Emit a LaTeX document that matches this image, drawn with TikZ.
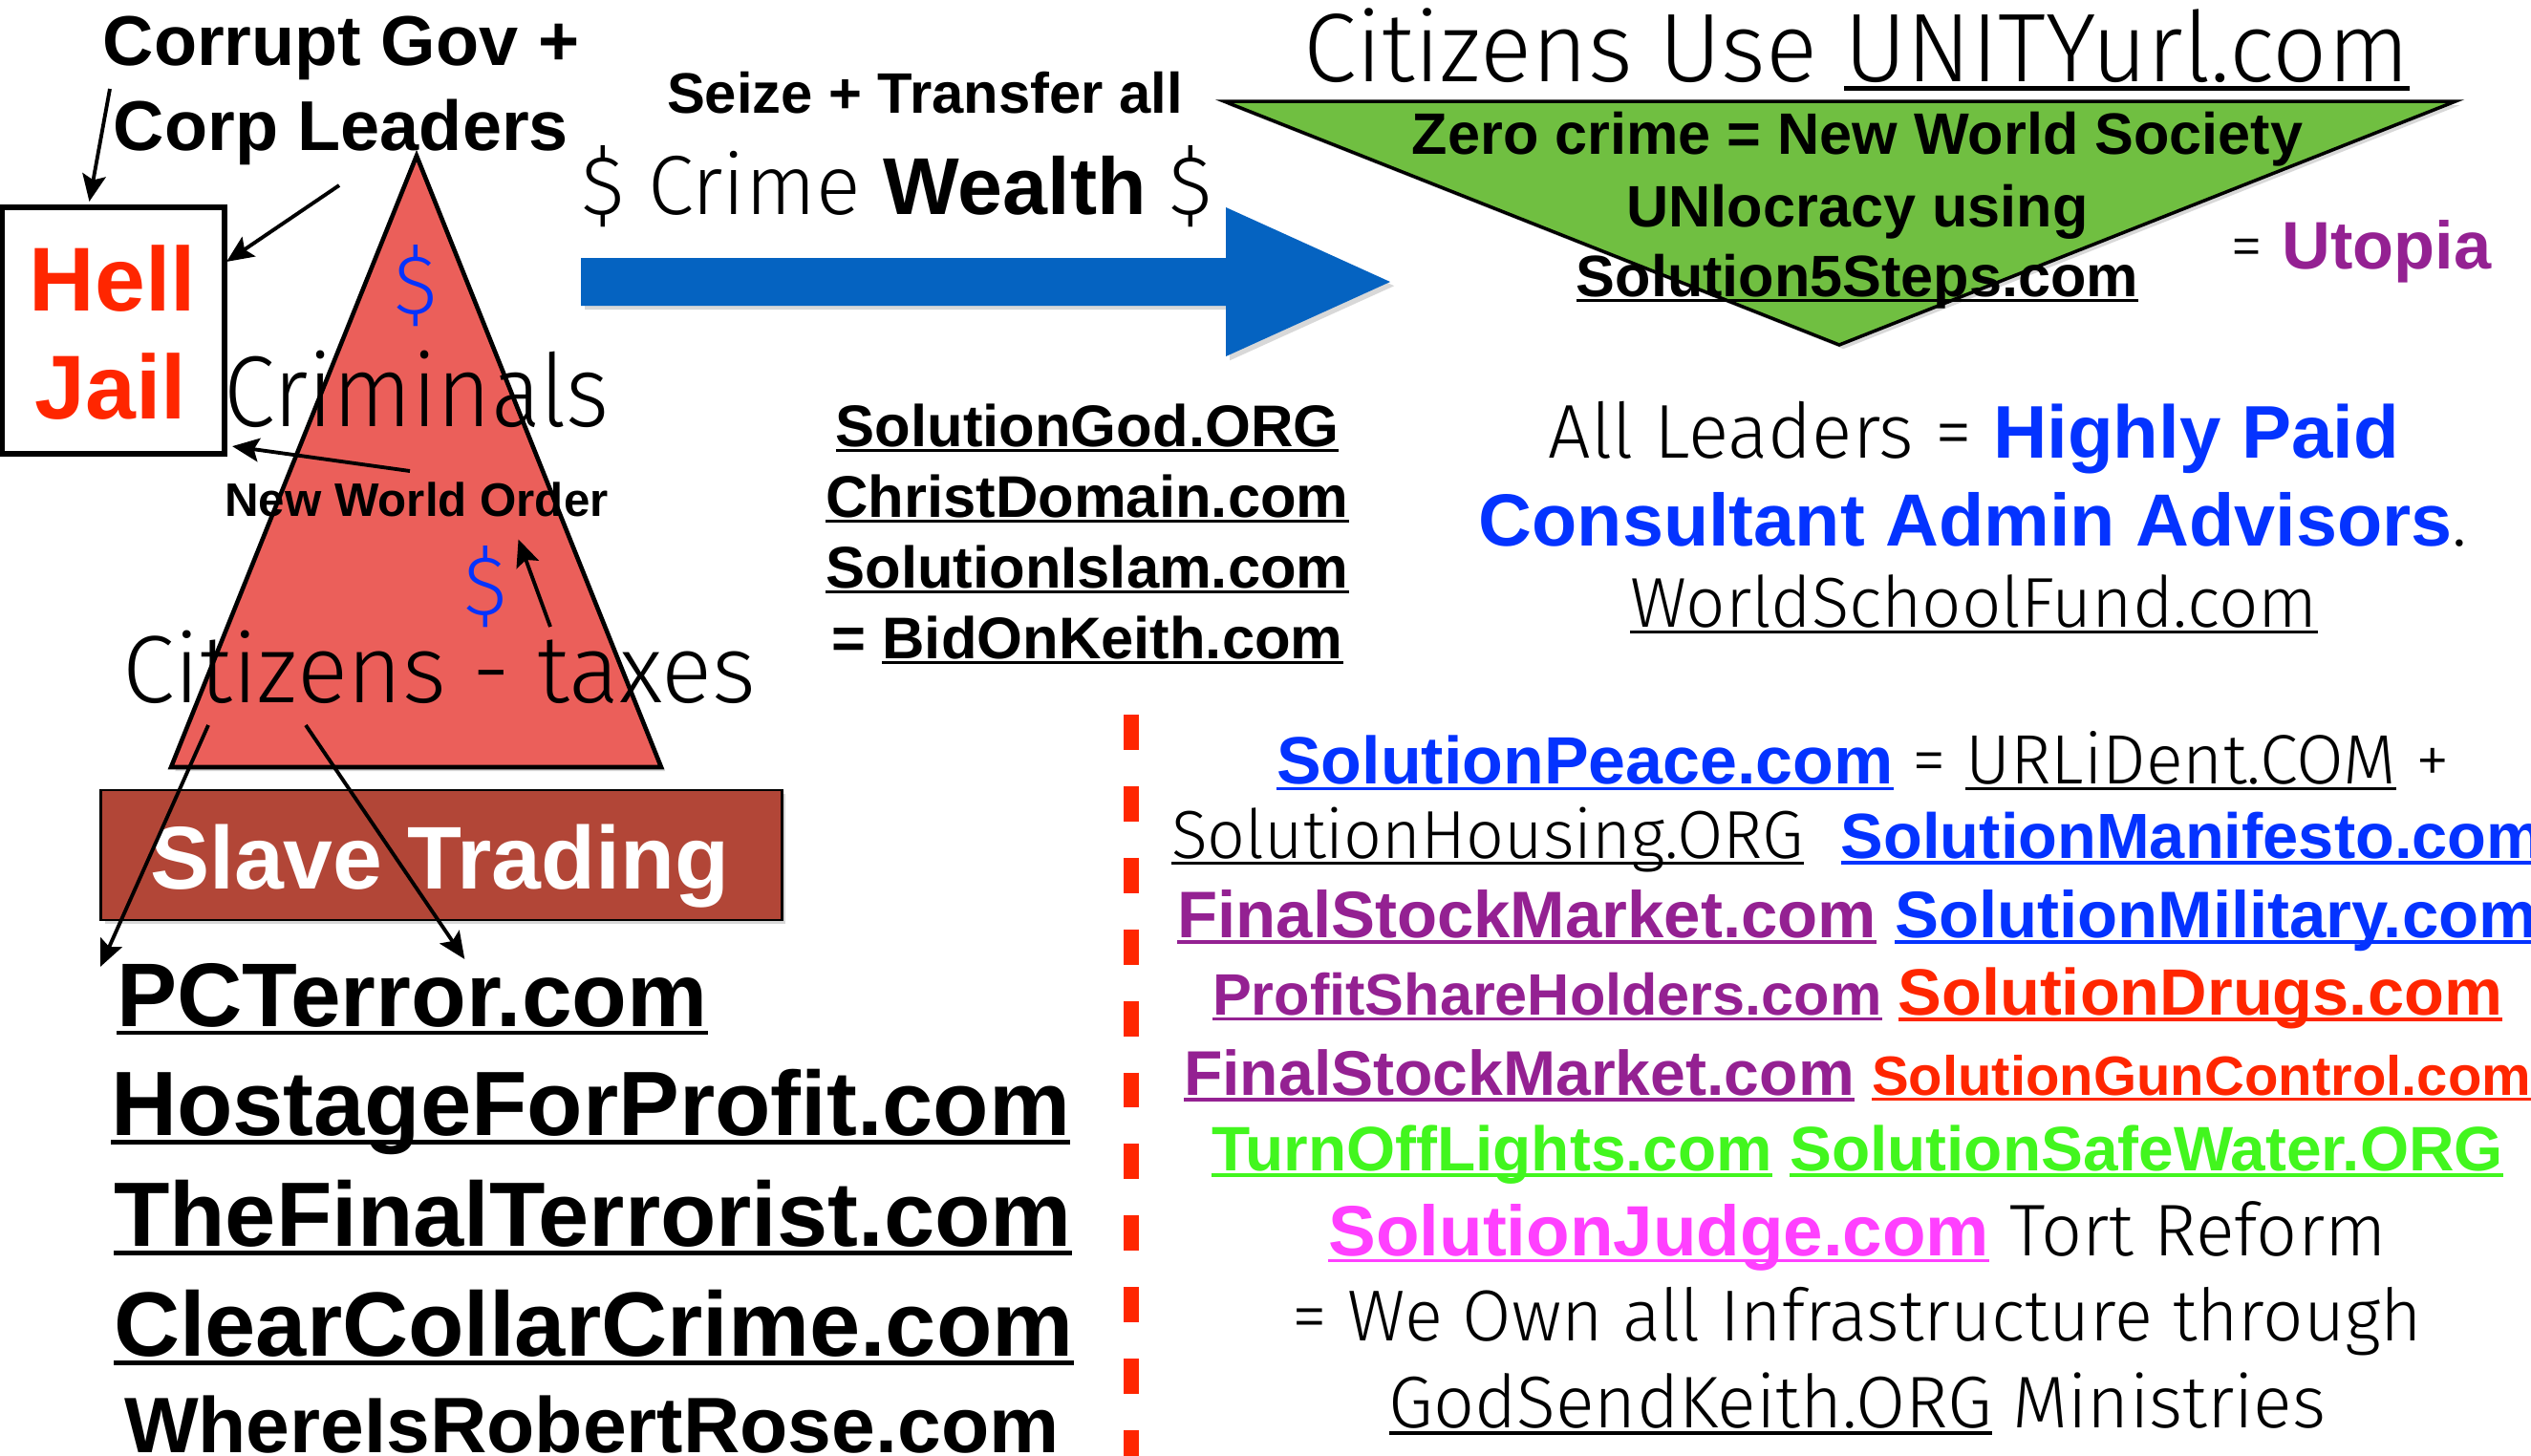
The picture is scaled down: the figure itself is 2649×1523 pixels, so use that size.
\documentclass[tikz,border=0pt]{standalone}
\usepackage{fontspec}
\setmainfont{Liberation Sans}
\newfontfamily\lite[FakeStretch=0.985]{Fira Sans Light}
\newfontfamily\litenarrow[FakeStretch=0.92]{Fira Sans Light}
\usetikzlibrary{arrows.meta,shadows}

\definecolor{pyramidred}{RGB}{235,95,90}
\definecolor{slavebrown}{RGB}{178,70,55}
\definecolor{arrowblue}{RGB}{5,99,193}
\definecolor{societygreen}{RGB}{112,191,65}
\definecolor{linkblue}{RGB}{4,51,255}
\definecolor{linkpurple}{RGB}{148,33,146}
\definecolor{linkred}{RGB}{255,38,0}
\definecolor{linkgreen}{RGB}{66,246,30}
\definecolor{linkpink}{RGB}{255,64,255}

\newcommand\fsz[1]{\fontsize{#1pt}{#1pt}\selectfont}
\newcommand\bld{\normalfont\bfseries}
\newcommand\undl[1]{\setbox0\hbox{#1}\rlap{\rule[-0.1em]{\wd0}{0.05em}}\box0\relax}

\begin{document}
\begin{tikzpicture}[x=0.01cm,y=-0.01cm,
            every node/.style={inner sep=0pt,outer sep=0pt},
            boldtxt/.style={anchor=base,font=\bld\fsz{#1}},
            lighttxt/.style={anchor=base,font=\lite\fsz{#1}},
            to/.style={-{Stealth[length=8pt,width=7pt,inset=1.5pt]},line width=1.1pt},
            shadowed/.style={drop shadow={shadow xshift=1.2pt,shadow yshift=-1.2pt,opacity=0.3}},
            cell/.style={draw,line width=1.5pt,minimum width=23.3mm,minimum height=25.8mm},
            slavebox/.style={draw,line width=0.8pt,fill=slavebrown,shadowed,minimum width=71.2mm,minimum height=13.6mm},
            dashline/.style={draw=linkred,line width=4.3pt,dash pattern=on 10.5pt off 10.8pt}
  ]
  \fill[white] (0,0) rectangle (2649,1523);
  \useasboundingbox (0,0) rectangle (2649,1523);

  % left pyramid
  \filldraw[fill=pyramidred,draw=black,line width=1.3pt,line join=miter,shadowed] (436,163) -- (692,803) -- (179,803) -- cycle;

  \node[boldtxt=21] (corrupt) at (357,68) {Corrupt Gov +};
  \node[boldtxt=21] (corp) at (357,157) {Corp Leaders};

  \node[cell] (cell) at (118.5,346) {};
  \node[boldtxt=27,text=linkred] (hell) at (118,325) {Hell};
  \node[boldtxt=27,text=linkred] (jail) at (116,438) {Jail};

  \node[lighttxt=25,text=linkblue] (dollartop) at (435,328) {\$};
  \node[anchor=base,font=\litenarrow\fsz{30}] (criminals) at (436,446) {Criminals};
  \node[boldtxt=14] (nwo) at (436,540) {New World Order};
  \node[lighttxt=25,text=linkblue] (dollarlow) at (508,643) {\$};
  \node[lighttxt=28.5] (ctax) at (460,735) {Citizens - taxes};

  \node[slavebox] (slave) at (462,895) {};
  \node[boldtxt=26.5,text=white] (slavetxt) at (460,930) {Slave Trading};

  % left list
  \node[boldtxt=26.9,anchor=base west] (pc) at (122,1074) {\undl{PCTerror.com}};
  \node[boldtxt=27.2,anchor=base west] (hostage) at (116,1188) {\undl{HostageForProfit.com}};
  \node[boldtxt=27.2,anchor=base west] (terrorist) at (119,1304) {\undl{TheFinalTerrorist.com}};
  \node[boldtxt=27.2,anchor=base west] (collar) at (119,1419) {\undl{ClearCollarCrime.com}};
  \node[boldtxt=23.4,anchor=base west] (rose) at (130,1520) {\undl{WhereIsRobertRose.com}};

  % arrows on the left
  \coordinate (govtail) at (115,93);
  \coordinate (leadtail) at (355,194);
  \coordinate (nwotail) at (429,493);
  \coordinate (taxtail) at (576,656);
  \coordinate (slavetailA) at (218,759);
  \coordinate (slavetailB) at (320,759);
  \draw[to] (govtail) -- ([xshift=-2.5mm,yshift=0.6mm]cell.north);
  \draw[to] (leadtail) -- ([xshift=0.2mm,yshift=7.2mm]cell.east);
  \draw[to] (nwotail) -- ([xshift=0.8mm,yshift=0.8mm]cell.south east);
  \draw[to] (taxtail) -- ([xshift=-9.4mm,yshift=-2.4mm]nwo.south east);
  \draw[to] (slavetailA) -- ([xshift=-1.7mm,yshift=-0.4mm]pc.north west);
  \draw[to] (slavetailB) -- ([xshift=5.5mm,yshift=0.4mm]pc.north);

  % transfer arrow
  \node[boldtxt=17] (seize) at (968,118) {Seize + Transfer all};
  \node[lighttxt=25] (wealth) at (939,224) {\$ Crime {\bld\fsz{24}Wealth} \$};
  \fill[arrowblue,shadowed] (608,270) -- (1283,270) -- (1283,217) -- (1455,295) -- (1283,373) -- (1283,320) -- (608,320) -- cycle;

  \node[boldtxt=17.5] (god) at (1138,467) {\undl{SolutionGod.ORG}};
  \node[boldtxt=17.5] (christ) at (1138,541) {\undl{ChristDomain.com}};
  \node[boldtxt=17.5] (islam) at (1138,615) {\undl{SolutionIslam.com}};
  \node[boldtxt=17.5] (bid) at (1138,689) {= \undl{BidOnKeith.com}};

  % society triangle
  \node[lighttxt=29] (unity) at (1943,85) {Citizens Use \undl{UNITYurl.com}};
  \filldraw[fill=societygreen,draw=black,line width=1pt,shadowed] (1281,106) -- (2570,106) -- (1925,361) -- cycle;
  \node[boldtxt=17.4] (zero) at (1944,161) {Zero crime = New World Society};
  \node[boldtxt=17.4] (unlocracy) at (1944,237) {UNlocracy using};
  \node[boldtxt=17.4] (steps) at (1944,310) {\undl{Solution5Steps.com}};
  \node[lighttxt=20] (utopia) at (2471,281) {= {\bld\color{linkpurple}Utopia}};

  \node[lighttxt=22.7] (leaders) at (2066,479) {All Leaders = {\bld\fsz{22.2}\color{linkblue}Highly Paid}};
  \node[lighttxt=22] (advisors) at (2065,571) {{\bld\color{linkblue}Consultant Admin Advisors}.};
  \node[lighttxt=21] (school) at (2066,656) {\undl{WorldSchoolFund.com}};

  \draw[dashline] (1184,748) -- (1184,1540);

  % right list
  \node[lighttxt=20.8] (peace) at (1950,820) {{\bld\fsz{19.9}\color{linkblue}\undl{SolutionPeace.com}} = \undl{URLiDent.COM} +};
  \node[lighttxt=20.2] (housing) at (1944,898) {\undl{SolutionHousing.ORG}\ \ {\bld\fsz{19}\color{linkblue}\undl{SolutionManifesto.com}}};
  \node[boldtxt=19.6] (military) at (1944,981) {{\color{linkpurple}\undl{FinalStockMarket.com}} {\color{linkblue}\undl{SolutionMilitary.com}}};
  \node[boldtxt=17.4] (drugs) at (1944,1062) {{\color{linkpurple}\undl{ProfitShareHolders.com}} {\fsz{19.5}\color{linkred}\undl{SolutionDrugs.com}}};
  \node[boldtxt=18.8] (guns) at (1944,1146) {{\color{linkpurple}\undl{FinalStockMarket.com}} {\fsz{16.5}\color{linkred}\undl{SolutionGunControl.com}}};
  \node[boldtxt=18.7,text=linkgreen] (water) at (1944,1225) {\undl{TurnOffLights.com} \undl{SolutionSafeWater.ORG}};
  \node[lighttxt=21.8] (judge) at (1944,1314) {{\bld\fsz{21.2}\color{linkpink}\undl{SolutionJudge.com}} Tort Reform};
  \node[lighttxt=21.5] (own) at (1944,1403) {= We Own all Infrastructure through};
  \node[lighttxt=21.8] (ministries) at (1944,1494) {\undl{GodSendKeith.ORG} Ministries};

\end{tikzpicture}
\end{document}
